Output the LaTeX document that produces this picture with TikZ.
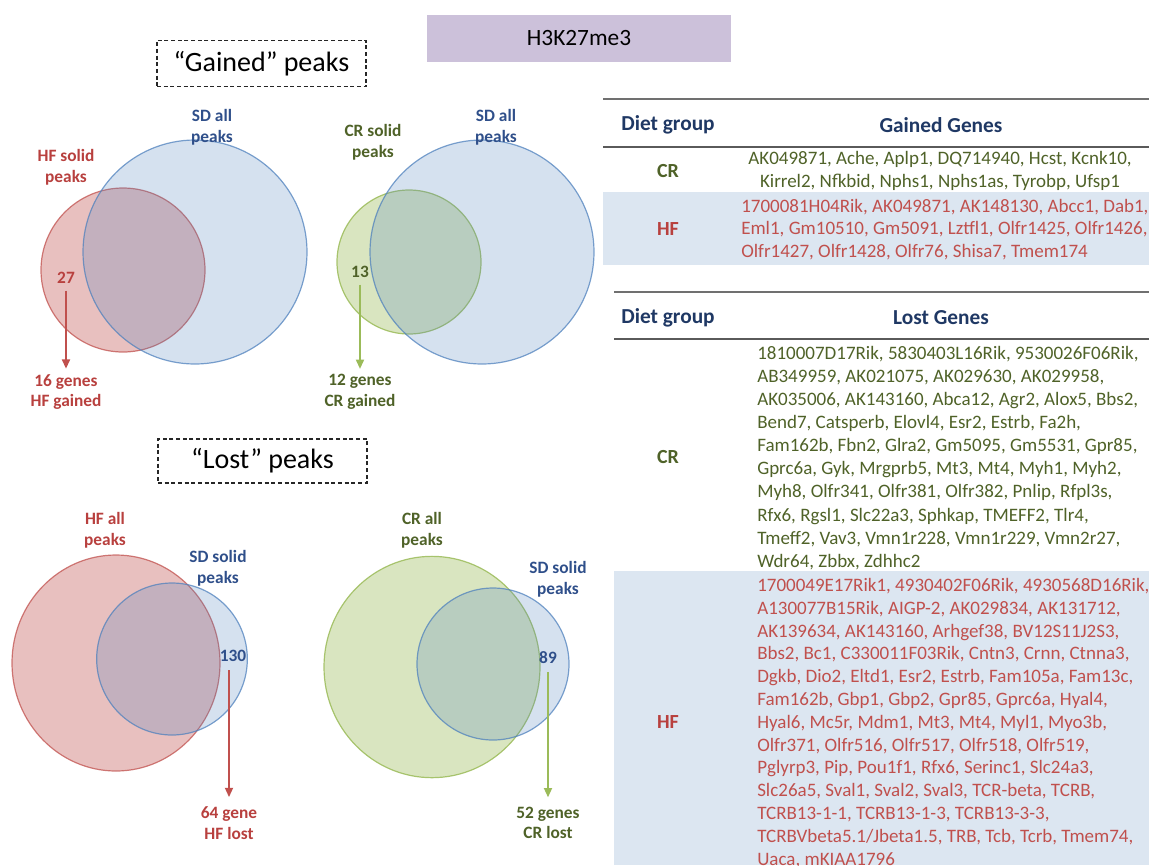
\documentclass[tikz,border=0pt]{standalone}
\usepackage{fontspec}
\setmainfont{Carlito}
\usetikzlibrary{arrows.meta}
\definecolor{redS}{HTML}{C0504D}
\definecolor{redT}{HTML}{B8403E}
\definecolor{bluS}{HTML}{4F81BD}
\definecolor{bluT}{HTML}{2F4F8A}
\definecolor{grnS}{HTML}{9BBB59}
\definecolor{grnT}{HTML}{4F6228}
\definecolor{hdrT}{HTML}{1F3864}
\definecolor{purp}{HTML}{CCC1DA}
\definecolor{rowbg}{HTML}{DCE6F1}
\definecolor{rule}{HTML}{707070}
\newcommand{\myfs}[2]{\fontsize{#1}{#2}\selectfont}
\begin{document}
\begin{tikzpicture}[x=0.75pt,y=-0.75pt,
  redset/.style={fill=redS,fill opacity=0.36,draw=redS,draw opacity=0.75,line width=0.9pt},
  bluset/.style={fill=bluS,fill opacity=0.24,draw=bluS,draw opacity=0.75,line width=0.9pt},
  grnset/.style={fill=grnS,fill opacity=0.38,draw=grnS,draw opacity=0.85,line width=0.9pt},
  lbl/.style={font=\myfs{13}{15.5}\bfseries,align=center,inner sep=0pt},
  num/.style={font=\myfs{13}{15}\bfseries,inner sep=1pt},
  dbox/.style={draw=black!85,dash pattern=on 3pt off 2pt,line width=0.9pt,font=\myfs{21}{25},minimum width=156.75pt,minimum height=35pt,inner sep=0pt},
  arr/.style={-{Triangle[length=7pt,width=6pt]},line width=1.4pt},
  hdr/.style={font=\myfs{16}{19}\bfseries,text=hdrT,inner sep=0pt},
  rowlbl/.style={font=\myfs{15}{18}\bfseries,inner sep=0pt},
  genes/.style={font=\myfs{14.25}{17.2},inner sep=0pt},
  trule/.style={draw=rule,line width=1.6pt},
  hrule/.style={draw=rule!80!black,line width=1.1pt}
]
\useasboundingbox (0,0) rectangle (1149,865);

% title
\node[fill=purp,minimum width=228pt,minimum height=35pt,inner sep=0pt,font=\myfs{17.5}{20}] (ttl) at (579,38.5) {H3K27me3};
\node[dbox] (gbox) at (261.5,63.5) {“Gained” peaks};
\node[dbox,minimum height=33pt] (lbox) at (262.5,461) {“Lost” peaks};

% ---------- gained venns ----------
\draw[redset] (123,270) circle[radius=61.5pt];
\draw[bluset] (195,252) circle[radius=84pt];
\draw[grnset] (409,262) circle[radius=54pt];
\draw[bluset] (482,252) circle[radius=84pt];

\node[lbl,text=bluT] (sdall1) at (212,127) {SD all\\peaks};
\node[lbl,text=redT] (hfsol) at (66,167) {HF solid\\peaks};
\node[lbl,text=grnT] (crsol) at (373,142) {CR solid\\peaks};
\node[lbl,text=bluT] (sdall2) at (496,127) {SD all\\peaks};

\node[num,text=redT] (n27) at (66,278) {27};
\node[num,text=grnT] (n13) at (360,272) {13};
\node[lbl,text=redT] (g16) at (66,392) {16 genes\\HF gained};
\node[lbl,text=grnT] (g12) at (360,392) {12 genes\\CR gained};
\draw[arr,redS] ([yshift=-4pt]g16.north |- n27.south) -- ([yshift=4pt]g16.north);
\draw[arr,grnS] ([yshift=-4pt]g12.north |- n13.south) -- ([yshift=4pt]g12.north);

% ---------- lost venns ----------
\draw[redset] (116,663) ellipse[x radius=78pt,y radius=81pt];
\draw[bluset] (172,659) ellipse[x radius=56.5pt,y radius=57pt];
\draw[grnset] (432,667) ellipse[x radius=81pt,y radius=83pt];
\draw[bluset] (493,664) ellipse[x radius=57pt,y radius=57pt];

\node[lbl,text=redT] (hfall) at (105,530) {HF all\\peaks};
\node[lbl,text=bluT] (sdsol1) at (218,568) {SD solid\\peaks};
\node[lbl,text=grnT] (crall) at (422,530) {CR all\\peaks};
\node[lbl,text=bluT] (sdsol2) at (558,579) {SD solid\\peaks};

\node[num,text=bluT] (n130) at (233,656) {130};
\node[num,text=bluT] (n89) at (548,658) {89};
\node[lbl,text=redT] (l64) at (229,823) {64 gene\\HF lost};
\node[lbl,text=grnT] (l52) at (548,823) {52 genes\\CR lost};
\draw[arr,redS] ([yshift=-5pt]l64.north |- n130.south) -- ([yshift=7pt]l64.north);
\draw[arr,grnS] ([yshift=-5pt]l52.north |- n89.south) -- ([yshift=7pt]l52.north);

% ---------- gained table ----------
\fill[rowbg] (603,192) rectangle (1149,265);
\draw[trule] (603,99) -- (1149,99);
\draw[hrule] (603,147) -- (1149,147);
\node[hdr] (gh1) at (668,125) {Diet group};
\node[hdr] (gh2) at (941,125) {Gained Genes};
\node[rowlbl,text=grnT] (gcr) at (668,171) {CR};
\node[rowlbl,text=redT] (ghf) at (668,229) {HF};
\node[genes,text=grnT,align=center] (gcrl) at (940,170.5) {AK049871, Ache, Aplp1, DQ714940, Hcst, Kcnk10,\\Kirrel2, Nfkbid, Nphs1, Nphs1as, Tyrobp, Ufsp1};
\node[genes,text=redS,align=left,anchor=west,font=\myfs{14.25}{16.9}] (ghfl) at (741,229.5) {1700081H04Rik, AK049871, AK148130, Abcc1, Dab1,\\Eml1, Gm10510, Gm5091, Lztfl1, Olfr1425, Olfr1426,\\Olfr1427, Olfr1428, Olfr76, Shisa7, Tmem174};

% ---------- lost table ----------
\fill[rowbg] (614,571) rectangle (1149,865);
\draw[trule] (614,292) -- (1149,292);
\draw[hrule] (614,339) -- (1149,339);
\node[hdr] (lh1) at (668,318) {Diet group};
\node[hdr] (lh2) at (941,318) {Lost Genes};
\node[rowlbl,text=grnT] (lcr) at (668,457) {CR};
\node[rowlbl,text=redT] (lhf) at (668,722) {HF};
\node[genes,text=grnT,align=left,anchor=west,font=\myfs{14.25}{17.3}] (lcrl) at (757,458) {1810007D17Rik, 5830403L16Rik, 9530026F06Rik,\\AB349959, AK021075, AK029630, AK029958,\\AK035006, AK143160, Abca12, Agr2, Alox5, Bbs2,\\Bend7, Catsperb, Elovl4, Esr2, Estrb, Fa2h,\\Fam162b, Fbn2, Glra2, Gm5095, Gm5531, Gpr85,\\Gprc6a, Gyk, Mrgprb5, Mt3, Mt4, Myh1, Myh2,\\Myh8, Olfr341, Olfr381, Olfr382, Pnlip, Rfpl3s,\\Rfx6, Rgsl1, Slc22a3, Sphkap, TMEFF2, Tlr4,\\Tmeff2, Vav3, Vmn1r228, Vmn1r229, Vmn2r27,\\Wdr64, Zbbx, Zdhhc2};
\node[genes,text=redS,align=left,anchor=west,font=\myfs{14.25}{17.1}] (lhfl) at (757,723) {1700049E17Rik1, 4930402F06Rik, 4930568D16Rik,\\A130077B15Rik, AIGP-2, AK029834, AK131712,\\AK139634, AK143160, Arhgef38, BV12S11J2S3,\\Bbs2, Bc1, C330011F03Rik, Cntn3, Crnn, Ctnna3,\\Dgkb, Dio2, Eltd1, Esr2, Estrb, Fam105a, Fam13c,\\Fam162b, Gbp1, Gbp2, Gpr85, Gprc6a, Hyal4,\\Hyal6, Mc5r, Mdm1, Mt3, Mt4, Myl1, Myo3b,\\Olfr371, Olfr516, Olfr517, Olfr518, Olfr519,\\Pglyrp3, Pip, Pou1f1, Rfx6, Serinc1, Slc24a3,\\Slc26a5, Sval1, Sval2, Sval3, TCR-beta, TCRB,\\TCRB13-1-1, TCRB13-1-3, TCRB13-3-3,\\TCRBVbeta5.1/Jbeta1.5, TRB, Tcb, Tcrb, Tmem74,\\Uaca, mKIAA1796};
\end{tikzpicture}
\end{document}
